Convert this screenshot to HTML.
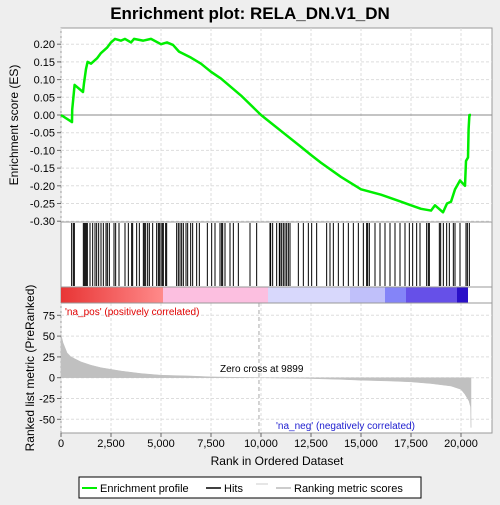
<!DOCTYPE html>
<html><head><meta charset="utf-8"><style>
body{margin:0;background:#eeeeee;font-family:"Liberation Sans",sans-serif}
</style></head><body>
<svg id="c" width="500" height="500" xmlns="http://www.w3.org/2000/svg">
<rect width="500" height="500" fill="#eeeeee"/>
<text x="250" y="19" text-anchor="middle" font-size="17" font-weight="bold">Enrichment plot: RELA_DN.V1_DN</text>
<rect x="61" y="28" width="431" height="405" fill="#fff" stroke="#999"/>
<g id="grid"></g>
<defs><linearGradient id="rg" x1="0" x2="1"><stop offset="0" stop-color="#e83535"/><stop offset="1" stop-color="#ff8a8a"/></linearGradient></defs>
<g>
<rect x="61" y="287" width="102" height="16" fill="url(#rg)"/>
<rect x="163" y="287" width="105" height="16" fill="#fcbfe0"/>
<rect x="268" y="287" width="82" height="16" fill="#d8d8fc"/>
<rect x="350" y="287" width="35" height="16" fill="#c0c0fa"/>
<rect x="385" y="287" width="21" height="16" fill="#8484f8"/>
<rect x="406" y="287" width="51" height="16" fill="#6650e8"/>
<rect x="457" y="287" width="11" height="16" fill="#2a10c8"/>
</g>
<line x1="61" y1="222" x2="492" y2="222" stroke="#999"/>
<line x1="61" y1="287" x2="492" y2="287" stroke="#999"/>
<line x1="61" y1="303" x2="492" y2="303" stroke="#999"/>
<g id="hits"></g><g id="metric"></g><g id="es"></g><g id="axes"></g>
<text x="65" y="315" font-size="10" fill="#e00000">'na_pos' (positively correlated)</text>
<text x="276" y="429" font-size="10" fill="#2020d0">'na_neg' (negatively correlated)</text>
<text x="220" y="372" font-size="10">Zero cross at 9899</text>
<text x="18" y="125" font-size="12" transform="rotate(-90 18 125)" text-anchor="middle">Enrichment score (ES)</text>
<text x="34" y="368" font-size="12" transform="rotate(-90 34 368)" text-anchor="middle">Ranked list metric (PreRanked)</text>
<text x="277" y="465" font-size="12" text-anchor="middle">Rank in Ordered Dataset</text>
<g>
<rect x="79" y="477" width="342" height="21" fill="#fff" stroke="#000"/>
<line x1="82" y1="488" x2="97" y2="488" stroke="#00ee00" stroke-width="2"/>
<text x="100" y="492" font-size="11">Enrichment profile</text>
<line x1="206" y1="488" x2="221" y2="488" stroke="#000" stroke-width="1.5"/>
<text x="224" y="492" font-size="11">Hits</text>
<line x1="256" y1="484" x2="268" y2="484" stroke="#ccc"/>
<line x1="276" y1="488" x2="291" y2="488" stroke="#bbb" stroke-width="1.5"/>
<text x="294" y="492" font-size="11">Ranking metric scores</text>
</g>
</svg>
<script>
const hitRanks=[533,617,667,1117,1167,1217,1267,1317,1450,1583,1700,1783,1883,2000,2117,2250,2317,2417,2650,2733,2900,3200,3367,3533,3583,3783,3917,4117,4167,4233,4333,4417,4583,4783,4867,4917,5000,5067,5117,5233,5283,5783,5867,5950,6033,6117,6250,6333,6483,6583,6783,6917,7317,7533,7700,7950,8033,8083,8200,8450,8617,8867,9450,9783,10450,10483,10583,10783,10917,10950,11033,11117,11200,11283,11367,11450,11867,12117,12367,12533,12783,13283,13450,13617,13867,14117,14367,14617,14867,15117,15283,15333,15417,15700,15950,16200,16450,16700,16950,17200,17417,17583,17783,17950,18283,18367,18417,18917,18983,19117,19283,19417,19617,19700,19950,20250,20317,20417];
const esRanks=[0,550,560,620,680,1100,1150,1250,1330,1500,1800,2000,2300,2500,2700,3000,3200,3500,3650,4100,4500,5000,5300,5600,5900,6500,7000,7500,8000,9000,10000,11000,12000,12500,13000,14000,15000,16000,17000,17500,18000,18500,18700,19100,19300,19500,19700,19950,20200,20250,20350,20380,20420,20500];
const esValues=[0,-0.02,0.015,0.05,0.085,0.065,0.09,0.13,0.15,0.145,0.16,0.175,0.19,0.205,0.215,0.21,0.215,0.205,0.215,0.21,0.215,0.2,0.205,0.198,0.179,0.162,0.145,0.122,0.103,0.055,0.0,-0.045,-0.09,-0.113,-0.135,-0.175,-0.21,-0.225,-0.245,-0.255,-0.265,-0.27,-0.255,-0.275,-0.25,-0.245,-0.21,-0.185,-0.2,-0.13,-0.12,-0.04,0.0,0.0];
const metricRanks=[0,100,300,500,1000,1500,2000,3000,4000,5000,6500,7500,9899,11000,12500,14000,15000,16500,17500,18500,19500,20000,20200,20400,20480,20500];
const metricValues=[52,42,30,25,19,15,12,8,5,3,2,1,0,-0.5,-1,-2,-3,-4,-5,-7,-10,-14,-20,-28,-35,-60];
const xTicks=[0,2500,5000,7500,10000,12500,15000,17500,20000];
const esTicks=[-0.30,-0.25,-0.20,-0.15,-0.10,-0.05,0.00,0.05,0.10,0.15,0.20];
const metricTicks=[-50,-25,0,25,50,75];
const X=r=>61+r*0.02;
const YE=v=>115-v*354;
const YM=v=>377.7-v*0.832;
const NS="http://www.w3.org/2000/svg";
function mk(tag,attrs,parent){const e=document.createElementNS(NS,tag);for(const k in attrs)e.setAttribute(k,attrs[k]);document.getElementById(parent).appendChild(e);return e;}
xTicks.forEach(t=>{
 const g=mk('line',{x1:X(t),x2:X(t),y1:28,y2:222,stroke:'#ddd','stroke-dasharray':'3,2'},'grid');
 
 
 const g2=mk('line',{x1:X(t),x2:X(t),y1:303,y2:433,stroke:'#ddd','stroke-dasharray':'3,2'},'grid');
 
 
 const tx=mk('text',{x:X(t),y:447,'font-size':11,'text-anchor':'middle'},'axes');
 tx.textContent=t.toLocaleString('en-US');
 
 
 mk('line',{x1:X(t),x2:X(t),y1:433,y2:437,stroke:'#666'},'axes');
});
esTicks.forEach(t=>{
 const g=mk('line',{x1:61,x2:492,y1:YE(t),y2:YE(t),stroke:'#ddd','stroke-dasharray':'3,2'},'grid');
 
 
 const tx=mk('text',{x:55,y:YE(t)+4,'font-size':11,'text-anchor':'end'},'axes');
 tx.textContent=t.toFixed(2);
 
 
 mk('line',{x1:57,x2:61,y1:YE(t),y2:YE(t),stroke:'#666'},'axes');
});
metricTicks.forEach(t=>{
 const g=mk('line',{x1:61,x2:492,y1:YM(t),y2:YM(t),stroke:'#ddd','stroke-dasharray':'3,2'},'grid');
 
 
 const tx=mk('text',{x:55,y:YM(t)+4,'font-size':11,'text-anchor':'end'},'axes');
 tx.textContent=t;
 
 
 mk('line',{x1:57,x2:61,y1:YM(t),y2:YM(t),stroke:'#666'},'axes');
});
const z=mk('line',{x1:61,x2:492,y1:YE(0),y2:YE(0),stroke:'#888'},'grid');


const zc=mk('line',{x1:X(9899),x2:X(9899),y1:303,y2:433,stroke:'#aaa','stroke-dasharray':'4,3'},'grid');


hitRanks.forEach(r=>{
 const l=mk('line',{x1:X(r),x2:X(r),y1:223,y2:286,stroke:'#000','stroke-width':1},'hits');
 
 
});
let d='M'+X(0)+','+YM(0);
metricRanks.forEach((r,i)=>{d+=' L'+X(r)+','+YM(metricValues[i]);});
d+=' L'+X(metricRanks[metricRanks.length-1])+','+YM(0)+' Z';
const ma=mk('path',{d:d,fill:'#c0c0c0',stroke:'#c0c0c0','stroke-width':0.5},'metric');


const pts=esRanks.map((r,i)=>X(r)+','+YE(esValues[i])).join(' ');
const el=mk('polyline',{points:pts,fill:'none',stroke:'#00ee00','stroke-width':2.5,'stroke-linejoin':'round'},'es');


</script>
</body></html>
